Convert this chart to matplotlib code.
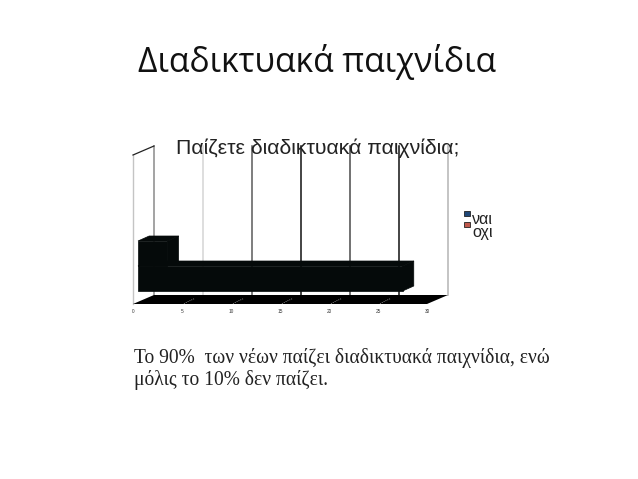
import matplotlib
matplotlib.use("Agg")
import matplotlib.pyplot as plt
from matplotlib.patches import Polygon, Rectangle

# Data
categories = ["ναι", "οχι"]
values = [27, 3]
ticks = [0, 5, 10, 15, 20, 25, 30]
grid_colors = ["#8a8a8a", "#d4d4d4", "#5a5a5a", "#111111", "#4a4a4a", "#111111", "#b4b4b4"]
legend_colors = ["#1f4778", "#c0584c"]

W, H = 638, 479
bar_color = "#050a0a"

fig = plt.figure(figsize=(W / 100, H / 100), dpi=100, facecolor="white")


def text_px(x, y, s, **kw):
    fig.text(x / W, 1 - y / H, s, **kw)


text_px(138, 62, "Διαδικτυακά παιχνίδια", fontsize=24.2, family="Open Sans", va="center", color="#111111")
text_px(176, 148, "Παίζετε διαδικτυακά παιχνίδια;", fontsize=15.3, family="Liberation Sans", va="center", zorder=10, color="#222222")
text_px(134, 358, "Το 90%  των νέων παίζει διαδικτυακά παιχνίδια, ενώ", fontsize=14.05, family="Liberation Serif", va="center", color="#222222")
text_px(134, 380, "μόλις το 10% δεν παίζει.", fontsize=14.05, family="Liberation Serif", va="center", color="#222222")

# axes: front plane of the fake 3D box, 30 units = 294 px, 1 category = 25 px
ax = fig.add_axes([133 / W, 1 - 304 / H, 294 / W, 149 / H])
ax.set_xlim(0, 30)
ax.set_ylim(-1.02, 4.94)
ax.axis("off")
ax.patch.set_alpha(0)

ymin, ymax = ax.get_ylim()
wall_dx, wall_dy = 2.14, 0.36   # box depth
bar_dx, bar_dy = 1.14, 0.2      # bar depth
bar_left = 0.51
bar_h = 1.0

clip = dict(clip_on=False)

# back wall gridlines
for t, c in zip(ticks, grid_colors):
    ax.plot([t + wall_dx, t + wall_dx], [ymin + wall_dy, ymax + wall_dy], color=c, lw=1.1, zorder=1, **clip)

# left wall
ax.plot([0, 0], [ymin, ymax], color="#c4c4c4", lw=1, zorder=1, **clip)
ax.plot([0, wall_dx], [ymax, ymax + wall_dy], color="#222222", lw=0.9, zorder=1, **clip)

# floor
ax.add_patch(Polygon([(0, ymin), (30, ymin), (30 + wall_dx, ymin + wall_dy), (wall_dx, ymin + wall_dy)],
                     closed=True, fc="black", ec="none", zorder=2, **clip))
for t in ticks[1:-1]:
    ax.plot([t + 0.2, t + wall_dx * 0.6], [ymin + 0.02, ymin + wall_dy * 0.6], color="white", lw=0.5, ls=(0, (1, 2)), zorder=3, **clip)

# bars, drawn back to front
for i, v in reversed(list(enumerate(values))):
    left, right = bar_left, bar_left + v
    bottom, top = i - bar_h / 2, i + bar_h / 2
    ax.add_patch(Polygon([(left, top), (right, top), (right + bar_dx, top + bar_dy), (left + bar_dx, top + bar_dy)],
                         closed=True, fc=bar_color, ec=bar_color, lw=0.5, zorder=4 + i * -1, **clip))
    ax.add_patch(Polygon([(right, bottom), (right, top), (right + bar_dx, top + bar_dy), (right + bar_dx, bottom + bar_dy)],
                         closed=True, fc=bar_color, ec=bar_color, lw=0.5, zorder=4 + i * -1, **clip))
    ax.barh(i, v, left=left, height=bar_h, color=bar_color, ec=bar_color, lw=0.5, zorder=4 + i * -1)

# tiny tick labels
for t in ticks:
    ax.text(t, ymin - 0.29, str(t), fontsize=3.4, ha="center", va="center", color="#333333", family="Liberation Sans", **clip)

# legend
for (y_box, y_text, name, c) in zip([213.5, 224.5], [219.5, 232], categories, legend_colors):
    fig.add_artist(Rectangle((464 / W, 1 - (y_box + 2.8) / H), 5.6 / W, 5.6 / H, transform=fig.transFigure,
                             fc=c, ec="#222222", lw=0.6))
    text_px(472, y_text, name, fontsize=11.5, family="Liberation Sans", va="center", color="#222222")

fig.savefig("out.png", dpi=100)
